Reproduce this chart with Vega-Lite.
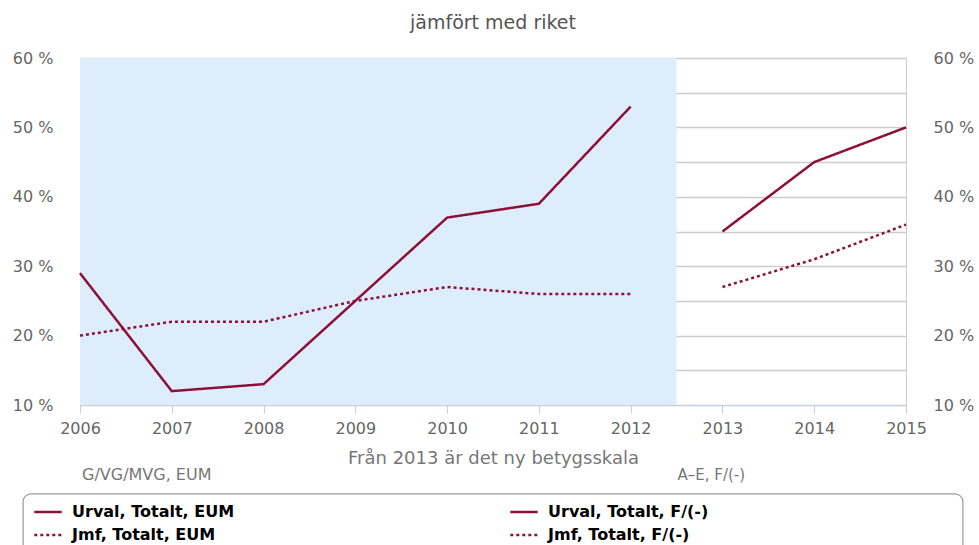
{
  "$schema": "https://vega.github.io/schema/vega-lite/v6.json",
  "width": 826,
  "height": 347,
  "autosize": "none",
  "padding": {"left": 80, "top": 58, "right": 73, "bottom": 140},
  "background": "white",
  "title": {"text": "jämfört med riket", "fontSize": 19, "font": "DejaVu Sans", "fontWeight": "normal", "color": "#555", "offset": 17, "anchor": "middle"},
  "config": {
    "view": {"stroke": "#ccc"},
    "font": "DejaVu Sans",
    "axis": {"labelFont": "DejaVu Sans", "labelColor": "#666", "titleFont": "DejaVu Sans"},
    "legend": {
      "orient": "none",
      "legendX": -57,
      "legendY": 429,
      "columns": 2,
      "padding": 10,
      "symbolType": "stroke",
      "symbolSize": 750,
      "symbolStrokeWidth": 2.5,
      "labelFont": "DejaVu Sans",
      "labelFontWeight": "bold",
      "labelFontSize": 16,
      "labelColor": "#000",
      "labelLimit": 800,
      "labelOffset": 9,
      "columnPadding": 270,
      "rowPadding": -2
    }
  },
  "data": {
    "values": [
      {"year": 2006, "value": 29, "serie": "Urval, Totalt, EUM"},
      {"year": 2007, "value": 12, "serie": "Urval, Totalt, EUM"},
      {"year": 2008, "value": 13, "serie": "Urval, Totalt, EUM"},
      {"year": 2009, "value": 25, "serie": "Urval, Totalt, EUM"},
      {"year": 2010, "value": 37, "serie": "Urval, Totalt, EUM"},
      {"year": 2011, "value": 39, "serie": "Urval, Totalt, EUM"},
      {"year": 2012, "value": 53, "serie": "Urval, Totalt, EUM"},
      {"year": 2006, "value": 20, "serie": "Jmf, Totalt, EUM"},
      {"year": 2007, "value": 22, "serie": "Jmf, Totalt, EUM"},
      {"year": 2008, "value": 22, "serie": "Jmf, Totalt, EUM"},
      {"year": 2009, "value": 25, "serie": "Jmf, Totalt, EUM"},
      {"year": 2010, "value": 27, "serie": "Jmf, Totalt, EUM"},
      {"year": 2011, "value": 26, "serie": "Jmf, Totalt, EUM"},
      {"year": 2012, "value": 26, "serie": "Jmf, Totalt, EUM"},
      {"year": 2013, "value": 35, "serie": "Urval, Totalt, F/(-)"},
      {"year": 2014, "value": 45, "serie": "Urval, Totalt, F/(-)"},
      {"year": 2015, "value": 50, "serie": "Urval, Totalt, F/(-)"},
      {"year": 2013, "value": 27, "serie": "Jmf, Totalt, F/(-)"},
      {"year": 2014, "value": 31, "serie": "Jmf, Totalt, F/(-)"},
      {"year": 2015, "value": 36, "serie": "Jmf, Totalt, F/(-)"}
    ]
  },
  "resolve": {"axis": {"y": "independent"}},
  "layer": [
    {
      "data": {"values": [{}]},
      "mark": {"type": "rect", "color": "#deedfc"},
      "encoding": {
        "x": {"datum": 2006, "type": "quantitative"},
        "x2": {"datum": 2012.5}
      }
    },
    {
      "transform": [{"filter": "indexof(datum.serie, 'EUM') >= 0"}],
      "mark": {"type": "line", "strokeWidth": 2.5},
      "encoding": {
        "x": {
          "field": "year", "type": "quantitative",
          "scale": {"domain": [2006, 2015], "nice": false, "zero": false},
          "axis": {
            "values": [2006, 2007, 2008, 2009, 2010, 2011, 2012, 2013, 2014, 2015],
            "format": "d", "grid": false, "domainColor": "#c0d0e0", "tickColor": "#c0d0e0",
            "tickSize": 8, "labelFontSize": 16, "labelPadding": 7, "labelFlush": false, "labelColor": "#666",
            "title": "Från 2013 är det ny betygsskala", "titleFontSize": 18, "titleFontWeight": "normal",
            "titleColor": "#777", "titlePadding": 13
          }
        },
        "y": {
          "field": "value", "type": "quantitative",
          "scale": {"domain": [10, 60], "nice": false, "zero": false},
          "axis": {
            "orient": "left", "values": [10, 15, 20, 25, 30, 35, 40, 45, 50, 55, 60],
            "labelExpr": "datum.value % 10 == 0 ? datum.value + ' %' : ''",
            "grid": true, "gridColor": "#cccccc", "gridWidth": 1.5, "domain": false, "ticks": false,
            "labelFontSize": 16, "labelPadding": 27, "labelColor": "#666", "title": null
          }
        },
        "color": {
          "field": "serie", "type": "nominal",
          "scale": {"domain": ["Urval, Totalt, EUM", "Jmf, Totalt, EUM", "Urval, Totalt, F/(-)", "Jmf, Totalt, F/(-)"], "range": ["#8e1038", "#8e1038", "#8e1038", "#8e1038"]},
          "legend": {"title": null}
        },
        "strokeDash": {
          "field": "serie", "type": "nominal",
          "scale": {"domain": ["Urval, Totalt, EUM", "Jmf, Totalt, EUM", "Urval, Totalt, F/(-)", "Jmf, Totalt, F/(-)"], "range": [[1, 0], [3, 3], [1, 0], [3, 3]]},
          "legend": {"title": null}
        }
      }
    },
    {
      "transform": [{"filter": "indexof(datum.serie, 'F/') >= 0"}],
      "mark": {"type": "line", "strokeWidth": 2.5},
      "encoding": {
        "x": {"field": "year", "type": "quantitative"},
        "y": {
          "field": "value", "type": "quantitative",
          "axis": {
            "orient": "right", "values": [10, 20, 30, 40, 50, 60],
            "labelExpr": "datum.value + ' %'",
            "grid": false, "domain": false, "ticks": false,
            "labelFontSize": 16, "labelPadding": 27, "labelColor": "#666", "title": null
          }
        },
        "color": {"field": "serie", "type": "nominal"},
        "strokeDash": {"field": "serie", "type": "nominal"}
      }
    },
    {
      "data": {"values": [{}]},
      "mark": {"type": "text", "text": "G/VG/MVG, EUM", "align": "left", "baseline": "middle", "dx": 2, "dy": 70, "fontSize": 16, "color": "#777", "font": "DejaVu Sans"},
      "encoding": {
        "x": {"datum": 2006, "type": "quantitative"},
        "y": {"datum": 10, "type": "quantitative", "axis": null}
      }
    },
    {
      "data": {"values": [{}]},
      "mark": {"type": "text", "text": "A–E, F/(-)", "align": "left", "baseline": "middle", "dx": 1, "dy": 70, "fontSize": 15, "color": "#777", "font": "DejaVu Sans"},
      "encoding": {
        "x": {"datum": 2012.5, "type": "quantitative"},
        "y": {"datum": 10, "type": "quantitative", "axis": null}
      }
    },
    {
      "data": {"values": [{}]},
      "mark": {"type": "rect", "fill": "white", "stroke": "#999", "strokeWidth": 1.2, "cornerRadius": 8, "clip": false},
      "encoding": {
        "x": {"datum": 2005.38, "type": "quantitative"},
        "x2": {"datum": 2015.62},
        "y": {"datum": -2.8, "type": "quantitative", "axis": null},
        "y2": {"datum": -14}
      }
    }
  ]
}
